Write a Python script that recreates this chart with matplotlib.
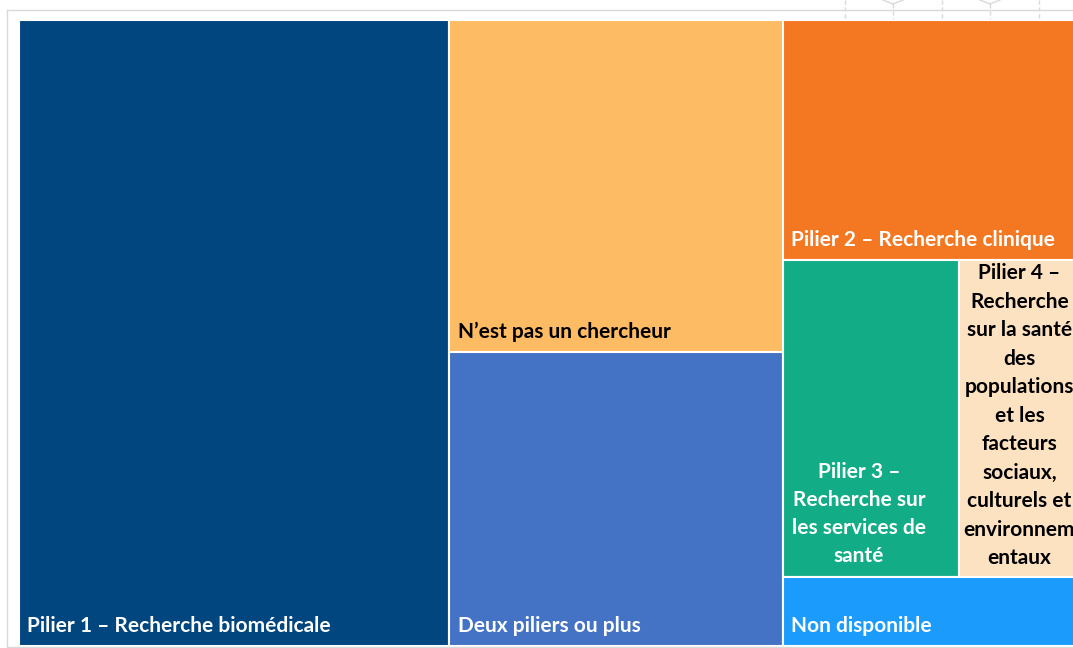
import matplotlib
matplotlib.use("Agg")
import matplotlib.pyplot as plt
from matplotlib.patches import Rectangle
from matplotlib.lines import Line2D

# ---- data ----
labels = [
    "Pilier 1 – Recherche biomédicale",
    "N’est pas un chercheur",
    "Deux piliers ou plus",
    "Pilier 2 – Recherche clinique",
    "Pilier 3 –\nRecherche sur\nles services de\nsanté",
    "Pilier 4 –\nRecherche\nsur la santé\ndes\npopulations\net les\nfacteurs\nsociaux,\nculturels et\nenvironnem\nentaux",
    "Non disponible",
]
values = [39.7, 16.4, 14.5, 11.1, 8.2, 6.4, 3.2]
colors = ["#01467F", "#FDBB63", "#4472C4", "#F47721", "#12AD86", "#FDE2C1", "#1B9BFB"]
text_colors = ["white", "black", "white", "white", "white", "black", "white"]

FONT = ["Lato", "DejaVu Sans"]
FS = 15

W_PX, H_PX = 1073, 648
fig = plt.figure(figsize=(W_PX / 100, H_PX / 100), dpi=100)
fig.patch.set_facecolor("white")

# axes spanning the treemap area (extends past the right edge, as in the cropped reference)
ax_left, ax_right, ax_top, ax_bot = 19, 1096, 20, 646
ax = fig.add_axes([ax_left / W_PX, (H_PX - ax_bot) / H_PX,
                   (ax_right - ax_left) / W_PX, (ax_bot - ax_top) / H_PX])
ax.set_xlim(0, 1)
ax.set_ylim(0, 1)
ax.axis("off")

# ---- treemap layout computed from values ----
v = values
T = sum(v)
rects = [None] * 7
x0 = 0.0
w1 = v[0] / T
rects[0] = (x0, 0.0, w1, 1.0)
x0 += w1
s2 = v[1] + v[2]
w2 = s2 / T
h_np = v[1] / s2
rects[1] = (x0, 1 - h_np, w2, h_np)
rects[2] = (x0, 0.0, w2, 1 - h_np)
x0 += w2
s3 = v[3] + v[4] + v[5] + v[6]
w3 = s3 / T
h2 = v[3] / s3
hm = (v[4] + v[5]) / s3
h7 = v[6] / s3
rects[3] = (x0, 1 - h2, w3, h2)
w5 = w3 * v[4] / (v[4] + v[5])
rects[4] = (x0, h7, w5, hm)
rects[5] = (x0 + w5, h7, w3 - w5, hm)
rects[6] = (x0, 0.0, w3, h7)

for (x, y, w, h), c in zip(rects, colors):
    ax.add_patch(Rectangle((x, y), w, h, facecolor=c, edgecolor="white", linewidth=1.5))

# ---- labels ----
def corner_label(i, dx, dy):
    x, y, w, h = rects[i]
    ax.annotate(labels[i], xy=(x, y), xytext=(dx, dy), textcoords="offset pixels",
                ha="left", va="center", color=text_colors[i],
                fontsize=FS, fontweight="bold", family=FONT, annotation_clip=False)

corner_label(0, 8, 20)
corner_label(1, 9, 20)
corner_label(2, 9, 20)
corner_label(3, 8, 20)
corner_label(6, 8, 20)

# Pilier 3: centered, bottom anchored
x, y, w, h = rects[4]
ax.annotate(labels[4], xy=(x + w / 2, y), xytext=(-12, 11), textcoords="offset pixels",
            ha="center", va="bottom", color=text_colors[4], fontsize=FS,
            fontweight="bold", family=FONT, linespacing=1.5, multialignment="center")
# Pilier 4: centered, top anchored
x, y, w, h = rects[5]
ax.annotate(labels[5], xy=(x + w / 2, y + h), xytext=(-8, -3), textcoords="offset pixels",
            ha="center", va="top", color=text_colors[5], fontsize=FS,
            fontweight="bold", family=FONT, linespacing=1.53, multialignment="center",
            annotation_clip=False)

# ---- chart frame and small handles (light grey) ----
def px_line(x1, y1, x2, y2, **kw):
    fig.add_artist(Line2D([x1 / W_PX, x2 / W_PX], [1 - y1 / H_PX, 1 - y2 / H_PX],
                          transform=fig.transFigure, **kw))

g = "#D9D9D9"
px_line(7, 9.5, W_PX, 9.5, color=g, lw=1)
px_line(7, 9.5, 7, H_PX, color=g, lw=1)
px_line(7, 647, W_PX, 647, color=g, lw=1)
for xv in (845, 942, 1039):
    px_line(xv, 0, xv, 19, color=g, lw=1, linestyle=(0, (3, 2)))
for xv in (893, 990):
    px_line(xv - 10, 0, xv, 4, color=g, lw=1)
    px_line(xv + 10, 0, xv, 4, color=g, lw=1)
    px_line(xv, 4, xv, 19, color=g, lw=1, linestyle=(0, (3, 2)))

fig.savefig("out.png", dpi=100, facecolor="white")
